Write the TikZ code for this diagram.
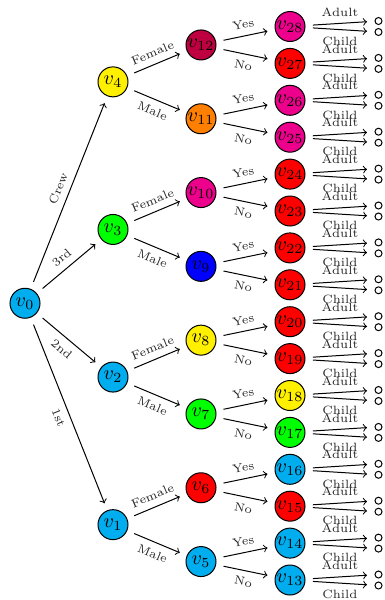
\documentclass[tikz,border=0pt]{standalone}
\definecolor{ccyan}{RGB}{0,174,239}
\definecolor{cmag}{RGB}{236,0,140}
\definecolor{cyel}{RGB}{255,240,0}
\definecolor{cpurple}{RGB}{191,0,64}
\definecolor{corange}{RGB}{255,128,0}
\definecolor{cgreen}{RGB}{0,255,0}
\definecolor{cblue}{RGB}{0,0,255}
\definecolor{cred}{RGB}{255,0,0}
\begin{document}
\begin{tikzpicture}[x=0.5pt,y=-0.5pt,
  vnode/.style={circle,draw,line width=0.5pt,minimum size=15pt,inner sep=0pt},
  leaf/.style={circle,draw,line width=0.5pt,minimum size=3.5pt,inner sep=0pt},
  edge/.style={->,line width=0.5pt,shorten >=3.75pt,shorten <=3.75pt},
  lab/.style={font=\fontsize{6}{7}\selectfont,text=black!85,midway}]
\useasboundingbox (0,0) rectangle (385,600);
% root
\node[vnode,fill=ccyan] (v0) at (25,303.25) {$v_0$};
% level 1
\node[vnode,fill=cyel] (v4) at (113,81.85) {$v_4$};
\node[vnode,fill=cgreen] (v3) at (113,229.45) {$v_3$};
\node[vnode,fill=ccyan] (v2) at (113,377.05) {$v_2$};
\node[vnode,fill=ccyan] (v1) at (113,524.65) {$v_1$};
\draw[edge] (v0) -- node[lab,sloped,above]{Crew} (v4);
\draw[edge] (v0) -- node[lab,sloped,above]{3rd} (v3);
\draw[edge] (v0) -- node[lab,sloped,below]{2nd} (v2);
\draw[edge] (v0) -- node[lab,sloped,below]{1st} (v1);
% level 2
\foreach \j/\n/\c/\p in {0/12/cpurple/4,1/11/corange/4,2/10/cmag/3,3/9/cblue/3,4/8/cyel/2,5/7/cgreen/2,6/6/cred/1,7/5/ccyan/1}{
  \node[vnode,fill=\c] (v\n) at (201,{26.5+36.9*(2*\j+0.5)}) {$v_{\n}$};
}
\foreach \p/\f/\m in {4/12/11,3/10/9,2/8/7,1/6/5}{
  \draw[edge] (v\p) -- node[lab,sloped,above]{Female} (v\f);
  \draw[edge] (v\p) -- node[lab,sloped,below]{Male} (v\m);
}
% level 3 and leaves
\foreach \k/\n/\c in {0/28/cmag,1/27/cred,2/26/cmag,3/25/cmag,4/24/cred,5/23/cred,6/22/cred,7/21/cred,8/20/cred,9/19/cred,10/18/cyel,11/17/cgreen,12/16/ccyan,13/15/cred,14/14/ccyan,15/13/ccyan}{
  \node[vnode,fill=\c] (v\n) at (290,{26.5+36.9*\k}) {$v_{\n}$};
  \node[leaf] (l\n a) at (378.5,{26.5+36.9*\k-5.5}) {};
  \node[leaf] (l\n c) at (378.5,{26.5+36.9*\k+5.5}) {};
  \draw[edge] (v\n) -- node[lab,above]{Adult} (l\n a);
  \draw[edge] (v\n) -- node[lab,below]{Child} (l\n c);
}
\foreach \p/\y/\n in {12/28/27,11/26/25,10/24/23,9/22/21,8/20/19,7/18/17,6/16/15,5/14/13}{
  \draw[edge] (v\p) -- node[lab,sloped,above]{Yes} (v\y);
  \draw[edge] (v\p) -- node[lab,sloped,below]{No} (v\n);
}
\end{tikzpicture}
\end{document}
